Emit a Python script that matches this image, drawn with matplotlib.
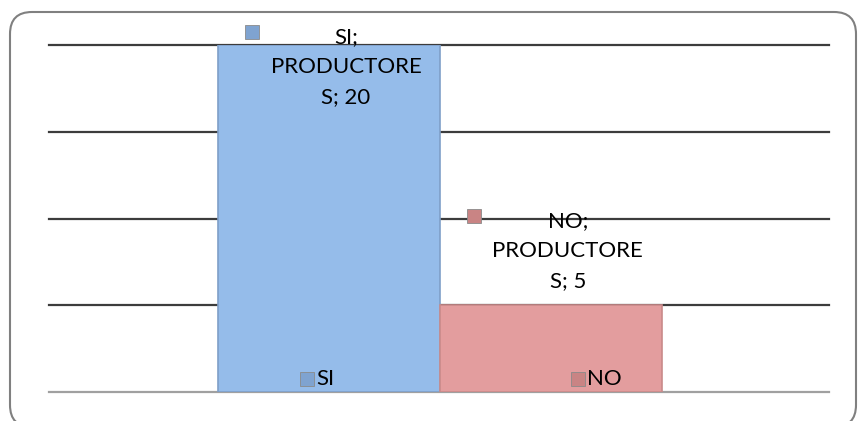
import matplotlib.pyplot as plt
from matplotlib.patches import FancyBboxPatch
from matplotlib.transforms import IdentityTransform, offset_copy

plt.rcParams['font.family'] = ['Lato', 'DejaVu Sans']

categorias = ["SI", "NO"]
serie = "PRODUCTORE\nS"
productores = [20, 5]
colores = ["#95bcea", "#e39d9e"]
bordes = ["#7f9fc8", "#c98a8a"]
claves = ["#7fa3d0", "#c98484"]

# desplazamientos (px) de las etiquetas de datos respecto al punto
etq_dx = [17, 17]
etq_dy = [-22, 54]
# etiquetas inferiores: clave y texto respecto al centro de la barra
inf_dx = [-22, 27]

fig = plt.figure(figsize=(8.58, 4.21), dpi=100)
ax = fig.add_axes([49 / 858, 29 / 421, 780 / 858, 347 / 421])

x = range(len(categorias))
ax.bar(x, productores, width=1.0, color=colores, edgecolor=bordes,
       linewidth=1.2, zorder=3)

ax.set_xlim(-1.261, 2.253)
ax.set_ylim(0, 20)
ax.set_yticks(range(0, 21, 5))
ax.yaxis.grid(True, color="#3c3c3c", linewidth=1.6, zorder=1)
for linea in ax.get_ygridlines():
    linea.set_clip_on(False)
ax.get_ygridlines()[0].set_color("#a0a0a0")
ax.tick_params(length=0, labelleft=False, labelbottom=False)
for s in ax.spines.values():
    s.set_visible(False)

for i, (cat, v) in enumerate(zip(categorias, productores)):
    tr = offset_copy(ax.transData, fig=fig, x=etq_dx[i], y=etq_dy[i],
                     units="dots")
    ax.text(i, v, f"{cat};\n{serie}; {v}", transform=tr, ha="center",
            va="center", fontsize=16, linespacing=1.62, zorder=5)
    trk = offset_copy(ax.transData, fig=fig, x=etq_dx[i] - 94,
                      y=etq_dy[i] + 35, units="dots")
    ax.plot(i, v, marker="s", markersize=10, color=claves[i],
            markeredgecolor="#8a8a8a", markeredgewidth=0.6,
            transform=trk, zorder=5, clip_on=False)

    trb = offset_copy(ax.transData, fig=fig, x=inf_dx[i], y=13,
                      units="dots")
    ax.plot(i, 0, marker="s", markersize=10, color=claves[i],
            markeredgecolor="#8a8a8a", markeredgewidth=0.6,
            transform=trb, zorder=5, clip_on=False)
    trt = offset_copy(ax.transData, fig=fig, x=inf_dx[i] + 9, y=13,
                      units="dots")
    ax.text(i, 0, cat, transform=trt, ha="left", va="center",
            fontsize=16, zorder=5)

marco = FancyBboxPatch((10, -6), 846, 415,
                       boxstyle="round,pad=0,rounding_size=22",
                       transform=IdentityTransform(), facecolor="none",
                       edgecolor="#808080", linewidth=1.5)
fig.add_artist(marco)

fig.savefig("out.png", dpi=100)
